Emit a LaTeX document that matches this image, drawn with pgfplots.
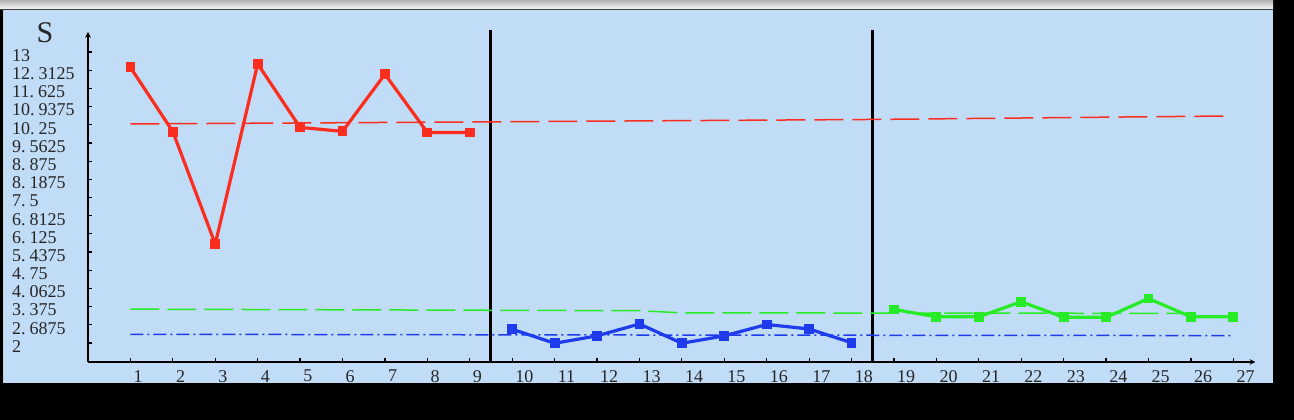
\documentclass[border=0pt]{standalone}
\usepackage{fontspec}
\setmainfont{Liberation Serif}
\usepackage{pgfplots}
\pgfplotsset{compat=1.18}
\definecolor{bg}{RGB}{193,220,246}
\definecolor{myred}{RGB}{250,45,30}
\definecolor{myblue}{RGB}{30,60,235}
\definecolor{mygreen}{RGB}{40,235,40}
\newcommand{\dsp}{\hspace{4pt}}
\begin{document}
\begin{tikzpicture}
% axis box south-west corner is at (0,0) = reference pixel (88,362)
\path[use as bounding box] (-88pt,-58pt) rectangle (1206pt,362pt);
\fill[black] (-88pt,-58pt) rectangle (1206pt,362pt);
\shade[top color=gray!60, bottom color=white] (-88pt,352pt) rectangle (1185pt,362pt);
\fill[bg] (-84pt,-21pt) rectangle (1185pt,352pt);
\draw[gray!50!black, line width=1.2pt] (-88pt,352.5pt) -- (1185pt,352.5pt);
\fill[gray!40] (-85pt,-21pt) rectangle (-84pt,352pt);
\node[font=\fontsize{30}{32}\selectfont, inner sep=0pt, text=black!85] at (-43pt,329pt) {S};
\begin{axis}[
  at={(0pt,0pt)}, anchor=south west, scale only axis,
  width=1167.4pt, height=330pt,
  xmin=0, xmax=27.52, ymin=1.282, ymax=13.756,
  axis x line=bottom, axis y line=left,
  axis line style={line width=1.5pt},
  x axis line style={-stealth},
  y axis line style={-stealth},
  tick align=inside, major tick length=4pt,
  tick style={black, line width=1.2pt},
  clip=false,
  xtick={1,2,...,27},
  xticklabels={1,2,3,4,5,6,7,8,9,10,11,12,13,14,15,16,17,18,19,20,21,22,23,24,25,26,27},
  ytick={2,2.6875,3.375,4.0625,4.75,5.4375,6.125,6.8125,7.5,8.1875,8.875,9.5625,10.25,10.9375,11.625,12.3125,13},
  yticklabels={2,2.\dsp 6875,3.\dsp 375,4.\dsp 0625,4.\dsp 75,5.\dsp 4375,6.\dsp 125,6.\dsp 8125,7.\dsp 5,8.\dsp 1875,8.\dsp 875,9.\dsp 5625,10.\dsp 25,10.\dsp 9375,11.\dsp 625,12.\dsp 3125,13},
  yticklabel style={anchor=west, inner sep=0pt, xshift=-76pt, yshift=-3.5pt, font=\fontsize{18}{20}\selectfont, text=black!85},
  xticklabel style={anchor=north west, inner sep=0pt, xshift=3pt, yshift=-8pt, font=\fontsize{18}{20}\selectfont, text=black!85},
]
% separators
\addplot[black, line width=3pt] coordinates {(9.5,1.282) (9.5,13.83)};
\addplot[black, line width=3pt] coordinates {(18.5,1.282) (18.5,13.83)};
% centre lines
\addplot[myred, line width=1.5pt, dash pattern=on 29pt off 9pt] coordinates {(1,10.28) (9.5,10.36) (18.5,10.45) (26.8,10.58)};
\addplot[mygreen, line width=1.5pt, dash pattern=on 29pt off 8pt] coordinates {(1,3.28) (13,3.22) (14,3.14) (26.1,3.12)};
\addplot[myblue, line width=1.5pt, dash pattern=on 13pt off 4pt on 2pt off 4pt] coordinates {(1,2.33) (14,2.30) (27,2.28)};
% data
\addplot[myred, line width=3.2pt, mark=square*, mark size=3.3pt] coordinates {
(1,12.42) (2,9.99) (3,5.74) (4,12.55) (5,10.15) (6,10.0) (7,12.16) (8,9.96) (9,9.96)};
\addplot[myblue, line width=3.2pt, mark=square*, mark size=3.3pt] coordinates {
(10,2.52) (11,1.99) (12,2.27) (13,2.72) (14,1.99) (15,2.27) (16,2.70) (17,2.53) (18,2.01)};
\addplot[mygreen, line width=3.2pt, mark=square*, mark size=3.3pt] coordinates {
(19,3.27) (20,2.99) (21,2.99) (22,3.56) (23,2.97) (24,2.97) (25,3.68) (26,2.99) (27,2.99)};
\end{axis}
\end{tikzpicture}
\end{document}
